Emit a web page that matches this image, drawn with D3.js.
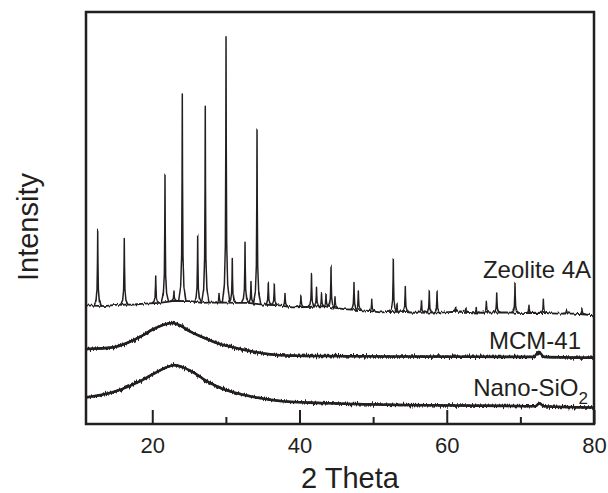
<!DOCTYPE html>
<html>
<head>
<meta charset="utf-8">
<script src="https://cdn.jsdelivr.net/npm/d3@7/dist/d3.min.js"></script>
<style>
  html, body { margin: 0; padding: 0; background: #ffffff; }
  svg { display: block; }
  text { font-family: Arial, "Liberation Sans", Helvetica, sans-serif; fill: #231f20; }
</style>
</head>
<body>
<svg id="chart" width="608" height="493"></svg>
<script>
// ---------------- DATA ----------------
const xTicksMajor = [20, 40, 60, 80];
const xTicksMinor = [30, 50, 70];
const xLabel = "2 Theta";
const yLabel = "Intensity";

// Zeolite 4A: background knots (2θ, intensity a.u.)
const zeoBaseTheta = [11, 13.5, 15, 17.5, 19, 21, 23, 25.2, 26.7, 28.5, 31.6, 33, 35, 37.3, 39, 41, 43.3, 46, 48.7, 51, 53.8, 55.5, 59.6, 62, 64.7, 68, 70.3, 72.2, 75, 77.3, 80];
const zeoBaseI     = [28.8, 28.6, 28.9, 29.0, 29.2, 29.4, 29.9, 29.8, 29.4, 29.5, 29.4, 29.4, 29.0, 28.8, 28.3, 28.4, 28.6, 27.9, 27.6, 27.1, 27.3, 27.0, 27.1, 27.3, 27.0, 27.1, 26.9, 27.0, 26.8, 26.8, 26.4];
// Zeolite 4A: reflections (2θ position, peak-top intensity a.u.)
const zeoPeakTheta = [12.59, 16.2, 20.47, 21.73, 22.95, 24.08, 26.17, 27.2, 29.07, 30.02, 30.87, 32.6, 33.41, 34.23, 35.76, 36.58, 38.03, 40.2, 41.63, 42.31, 42.99, 43.6, 44.28, 44.82, 47.4, 47.99, 49.81, 52.74, 53.24, 54.37, 56.57, 57.63, 58.68, 61.2, 62.6, 64.0, 65.38, 66.79, 69.27, 71.17, 73.12, 76.27, 78.37];
const zeoPeakI     = [47.0, 45.0, 35.9, 60.4, 32.3, 80.1, 45.8, 77.1, 31.7, 94.0, 40.2, 44.1, 34.6, 71.6, 34.4, 33.9, 31.7, 31.3, 36.3, 33.2, 31.6, 31.7, 38.3, 30.9, 34.6, 32.3, 30.3, 40.2, 29.1, 33.4, 30.1, 32.3, 32.1, 28.3, 28.3, 28.5, 29.8, 31.8, 34.1, 28.8, 30.3, 27.6, 28.0];

// MCM-41 (2θ, intensity a.u.)
const mcmTheta = [11.1, 14.6, 16.9, 18.7, 20.1, 21.4, 22.8, 23.7, 25.1, 26.8, 29.2, 31.5, 34.2, 37.3, 42.7, 53.6, 67.2, 71.8, 72.5, 73.2, 79.9];
const mcmI     = [18.2, 18.6, 19.9, 21.5, 23.0, 24.0, 24.5, 24.0, 22.5, 21.1, 19.4, 18.4, 17.4, 16.7, 16.5, 16.4, 16.3, 16.3, 17.5, 16.3, 16.1];

// Nano-SiO2 (2θ, intensity a.u.)
const nanoTheta = [11.1, 14.6, 16.9, 18.7, 20.6, 22.0, 23.0, 24.1, 25.5, 27.4, 29.6, 31.9, 34.6, 37.3, 42.7, 53.6, 67.2, 72.0, 72.6, 73.2, 79.9];
const nanoI     = [6.5, 7.7, 9.2, 10.7, 12.6, 13.8, 14.3, 13.8, 12.6, 10.4, 8.5, 7.3, 6.3, 5.6, 5.1, 4.6, 4.4, 4.3, 5.0, 4.3, 4.0];

const seriesNames = ["Zeolite 4A", "MCM-41", "Nano-SiO"];

// ---------------- CHART ----------------
const ink = "#231f20";
const svg = d3.select("#chart");
const x = d3.scaleLinear().domain([11, 80]).range([86, 594]);
const y = d3.scaleLinear().domain([0, 100]).range([424, 12]);

const defs = svg.append("defs");
defs.append("clipPath").attr("id", "clip")
  .append("rect").attr("x", 86).attr("y", 12).attr("width", 508).attr("height", 412);

// detector-noise texture (visual style only: vertical jitter of the stroke)
function noiseFilter(id, freq, scale, seed) {
  const f = defs.append("filter").attr("id", id)
    .attr("filterUnits", "userSpaceOnUse")
    .attr("x", 80).attr("y", 0).attr("width", 530).attr("height", 440)
    .attr("color-interpolation-filters", "sRGB");
  f.append("feTurbulence").attr("type", "fractalNoise")
    .attr("baseFrequency", freq).attr("numOctaves", 2).attr("seed", seed).attr("result", "t");
  f.append("feColorMatrix").attr("in", "t").attr("type", "matrix")
    .attr("values", "0 0 0 0 0.5  0 1 0 0 0  0 0 0 0 0  0 0 0 0 1").attr("result", "m");
  f.append("feDisplacementMap").attr("in", "SourceGraphic").attr("in2", "m")
    .attr("scale", scale).attr("xChannelSelector", "R").attr("yChannelSelector", "G");
}
noiseFilter("noiseZeo", "0.7 0.03", 4, 2);
noiseFilter("noiseAmo", "0.9 0.03", 7, 5);

const plot = svg.append("g").attr("clip-path", "url(#clip)");

// Zeolite 4A
const zeo = plot.append("g").attr("filter", "url(#noiseZeo)");
const baseScale = d3.scaleLinear().domain(zeoBaseTheta).range(zeoBaseI);
const line = d3.line().x(d => x(d[0])).y(d => y(d[1]));
zeo.append("path")
  .datum(zeoBaseTheta.map((t, i) => [t, zeoBaseI[i]]))
  .attr("fill", "none").attr("stroke", ink).attr("stroke-width", 1.8)
  .attr("stroke-linejoin", "round")
  .attr("d", line);

const offs = [-0.5, -0.22, -0.09, -0.03, 0, 0.03, 0.09, 0.22, 0.5];
const frac = [0, 0.07, 0.22, 0.6, 1, 0.6, 0.22, 0.07, 0];
zeo.selectAll("path.peak")
  .data(zeoPeakTheta.map((t, i) => ({ t, top: zeoPeakI[i] })))
  .join("path")
  .attr("class", "peak")
  .attr("fill", "none").attr("stroke", ink).attr("stroke-width", 1.5)
  .attr("stroke-linejoin", "round")
  .attr("d", d => {
    const b = baseScale(d.t);
    return line(offs.map((o, k) => [d.t + o, b + (d.top - b) * frac[k]]));
  });

// Amorphous traces (MCM-41, Nano-SiO2)
const smooth = d3.line().x(d => x(d[0])).y(d => y(d[1])).curve(d3.curveMonotoneX);
[[mcmTheta, mcmI], [nanoTheta, nanoI]].forEach(([tt, ii]) => {
  const pts = tt.map((t, i) => [t, ii[i]]);
  plot.append("path").datum(pts)
    .attr("fill", "none").attr("stroke", ink).attr("stroke-width", 2.6)
    .attr("d", smooth);
  plot.append("g").attr("filter", "url(#noiseAmo)")
    .append("path").datum(pts)
    .attr("fill", "none").attr("stroke", ink).attr("stroke-width", 2.4)
    .attr("d", smooth);
});

// Frame
svg.append("rect").attr("x", 86).attr("y", 12).attr("width", 508).attr("height", 412)
  .attr("fill", "none").attr("stroke", ink).attr("stroke-width", 2.5);

// Bottom axis: major ticks (inward) with labels
const axMaj = svg.append("g").attr("transform", "translate(0,424)")
  .call(d3.axisBottom(x).tickValues(xTicksMajor).tickSize(-14).tickPadding(13).tickFormat(d3.format("d")));
axMaj.select(".domain").remove();
axMaj.selectAll(".tick line").attr("stroke", ink).attr("stroke-width", 2);
axMaj.selectAll(".tick text").attr("font-size", 22).attr("font-family", "Arial, 'Liberation Sans', sans-serif").attr("fill", ink);

// Minor ticks
const axMin = svg.append("g").attr("transform", "translate(0,424)")
  .call(d3.axisBottom(x).tickValues(xTicksMinor).tickSize(-7).tickFormat(""));
axMin.select(".domain").remove();
axMin.selectAll(".tick line").attr("stroke", ink).attr("stroke-width", 2);

// Axis titles
svg.append("text").attr("x", 350).attr("y", 488).attr("text-anchor", "middle")
  .attr("font-size", 29).text(xLabel);
svg.append("text").attr("transform", "translate(38,227) rotate(-90)").attr("text-anchor", "middle")
  .attr("font-size", 29).text(yLabel);

// Series labels
svg.append("text").attr("x", 591).attr("y", 278).attr("text-anchor", "end")
  .attr("font-size", 24).text(seriesNames[0]);
svg.append("text").attr("x", 581).attr("y", 349).attr("text-anchor", "end")
  .attr("font-size", 24).text(seriesNames[1]);
const nano = svg.append("text").attr("x", 588).attr("y", 396).attr("text-anchor", "end")
  .attr("font-size", 24);
nano.append("tspan").text(seriesNames[2]);
nano.append("tspan").attr("font-size", 17).attr("dy", 8).text("2");
</script>
</body>
</html>
